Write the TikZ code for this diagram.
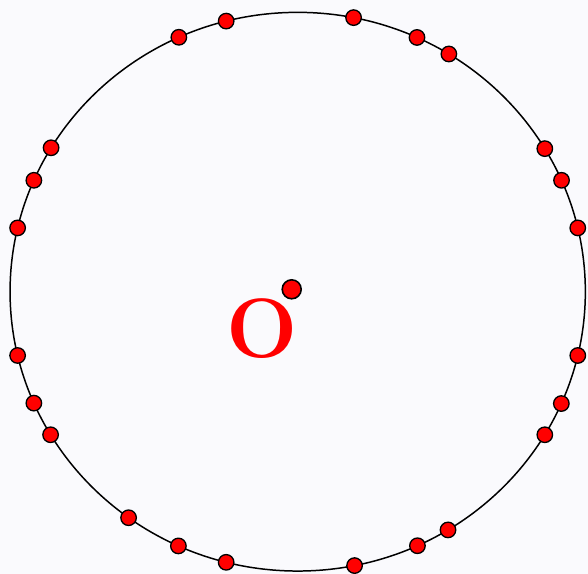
\documentclass[tikz,border=0pt]{standalone}
\usepackage{tikz}
\usetikzlibrary{positioning}
\definecolor{paper}{RGB}{250,250,253}

\begin{document}
\begin{tikzpicture}[x=0.02cm, y=-0.02cm,
    rimdot/.style={draw, circle, fill=red, line width=0.75pt, inner sep=0pt, minimum size=0.31cm},
    centredot/.style={draw, circle, fill=red, line width=0.9pt, inner sep=0pt, minimum size=0.38cm}]
    \fill[paper] (0,0) rectangle (588,574);
    \useasboundingbox (0,0) rectangle (588,574);
    \coordinate (c) at (297.7,291.7);
    \draw[line width=0.85pt] (c) ellipse [x radius=5.754cm, y radius=5.588cm];
    % points on the rim
    \foreach \a [count=\i] in {13.2,23.5,30.8,58.3,65.5,78.8,104.4,114.4,149.0,156.5,166.8,193.2,203.5,210.8,234.0,245.5,255.6,281.4,294.6,301.5,329.2,336.4,346.8}
        \node[rimdot] (p\i) at ({297.7+287.7*cos(\a)},{291.7-279.4*sin(\a)}) {};
    \node[centredot] (o) at (291.7,289.3) {};
    \node[text=red, font=\fontsize{48}{56}\selectfont\bfseries, inner sep=0pt] (olabel) at (261.7,328.3) {O};
\end{tikzpicture}
\end{document}
